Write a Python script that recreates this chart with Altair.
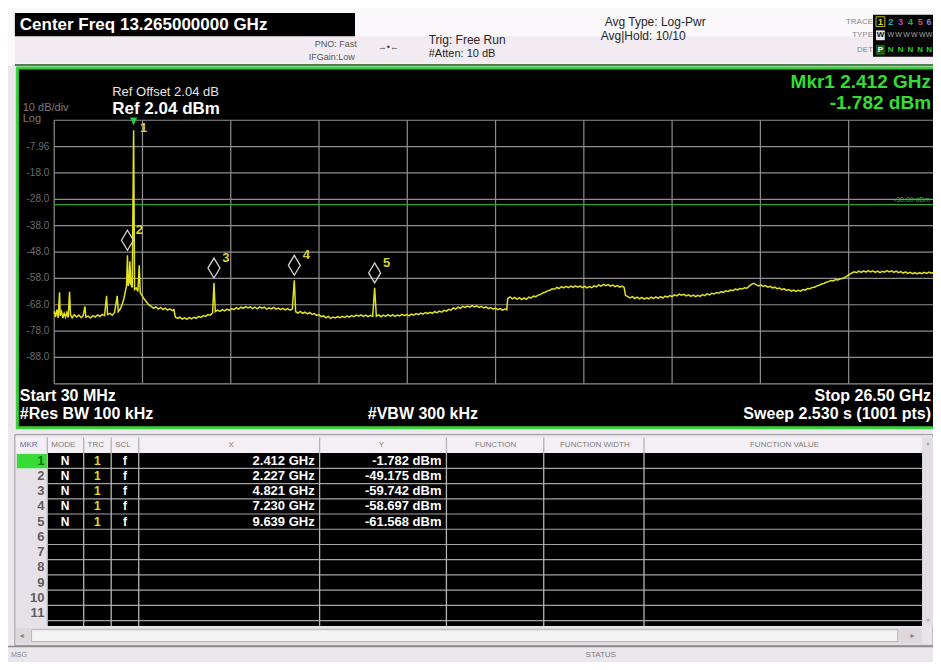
import altair as alt
import pandas as pd

# ---------------- instrument settings ----------------
F_START_GHZ = 0.03
F_STOP_GHZ = 26.5
REF_LEVEL_DBM = 2.04
REF_OFFSET_DB = 2.04
DB_PER_DIV = 10
N_DIV = 10
DISPLAY_LINE_DBM = -30.0
RBW_KHZ = 100
VBW_KHZ = 300
SWEEP_S = 2.530
SWEEP_PTS = 1001
ATTEN_DB = 10
AVG_HOLD = "10/10"

MARKER_IDS = [1, 2, 3, 4, 5]
MARKER_FREQ_GHZ = [2.412, 2.227, 4.821, 7.230, 9.639]
MARKER_LEVEL_DBM = [-1.782, -49.175, -59.742, -58.697, -61.568]
TABLE_ROWS = 11

# trace 1 (GHz, dBm)
TRACE = [
    (0.03, -70.4), (0.07, -72.6), (0.11, -69.8), (0.15, -72.9), (0.19, -63.2), (0.21, -72.1), (0.25, -70.6),
    (0.29, -73.0), (0.33, -71.2), (0.37, -72.7), (0.41, -70.9), (0.45, -72.8), (0.49, -63.0), (0.52, -71.9),
    (0.57, -72.9), (0.63, -71.7), (0.70, -72.6), (0.77, -71.9), (0.84, -72.9), (0.90, -72.1), (0.95, -68.6),
    (0.98, -72.7), (1.05, -72.3), (1.12, -73.0), (1.19, -72.1), (1.26, -72.6), (1.33, -71.8), (1.40, -72.4),
    (1.47, -71.6), (1.54, -72.1), (1.60, -64.6), (1.63, -71.7), (1.70, -71.2), (1.77, -71.9), (1.84, -70.9),
    (1.92, -64.6), (1.95, -70.6), (2.01, -69.6), (2.07, -67.8), (2.12, -65.6), (2.17, -62.5), (2.20, -60.6),
    (2.227, -49.175), (2.25, -60.8), (2.28, -59.4), (2.30, -51.5), (2.33, -60.2), (2.37, -61.4),
    (2.412, -1.782), (2.44, -62.2), (2.49, -61.6), (2.54, -62.9), (2.58, -53.0), (2.61, -63.4), (2.67, -64.6),
    (2.73, -65.8), (2.80, -66.9), (2.87, -68.0), (2.94, -68.6), (3.01, -69.3), (3.08, -68.8), (3.15, -69.6),
    (3.22, -69.0), (3.29, -69.8), (3.36, -69.3), (3.43, -70.0), (3.50, -69.5), (3.57, -70.2), (3.62, -69.8),
    (3.66, -72.6), (3.73, -73.1), (3.80, -72.7), (3.87, -73.4), (3.94, -72.9), (4.01, -73.5), (4.08, -72.8),
    (4.15, -73.3), (4.22, -72.7), (4.29, -73.1), (4.36, -72.4), (4.43, -72.8), (4.50, -72.1), (4.57, -72.4),
    (4.64, -71.7), (4.71, -71.9), (4.78, -71.1), (4.821, -59.742), (4.86, -70.6), (4.93, -70.0), (5.00, -70.5),
    (5.07, -69.8), (5.14, -70.3), (5.21, -69.6), (5.28, -70.1), (5.35, -69.4), (5.42, -69.8), (5.49, -69.1),
    (5.56, -69.6), (5.63, -68.9), (5.70, -69.3), (5.77, -68.7), (5.84, -69.2), (5.91, -68.8), (5.98, -69.4),
    (6.05, -68.9), (6.12, -69.5), (6.19, -68.8), (6.26, -69.3), (6.33, -68.9), (6.40, -69.6), (6.47, -69.1),
    (6.54, -69.5), (6.61, -69.0), (6.68, -69.6), (6.75, -69.2), (6.82, -69.8), (6.89, -69.3), (6.96, -69.9),
    (7.03, -69.4), (7.10, -70.0), (7.17, -69.6), (7.230, -58.697), (7.27, -70.6), (7.34, -71.1), (7.41, -70.5),
    (7.48, -71.2), (7.55, -70.8), (7.62, -71.4), (7.69, -70.9), (7.76, -71.6), (7.83, -71.3), (7.90, -72.0),
    (7.97, -71.8), (8.04, -72.5), (8.11, -72.2), (8.18, -72.9), (8.25, -72.4), (8.32, -73.1), (8.39, -72.6),
    (8.46, -73.0), (8.53, -72.5), (8.60, -72.9), (8.67, -72.4), (8.74, -72.8), (8.81, -72.2), (8.88, -72.7),
    (8.95, -72.1), (9.02, -72.5), (9.09, -71.9), (9.16, -72.3), (9.23, -71.8), (9.30, -72.4), (9.37, -71.9),
    (9.44, -72.5), (9.51, -72.0), (9.58, -72.4), (9.639, -61.568), (9.69, -72.3), (9.76, -71.8), (9.83, -72.5),
    (9.90, -71.9), (9.97, -72.4), (10.04, -71.7), (10.11, -72.3), (10.18, -71.8), (10.25, -72.4), (10.32, -71.9),
    (10.39, -72.2), (10.46, -71.6), (10.53, -72.1), (10.60, -71.7), (10.67, -72.2), (10.74, -71.5), (10.81, -71.9),
    (10.88, -71.3), (10.95, -71.7), (11.02, -71.1), (11.09, -71.5), (11.16, -70.9), (11.23, -71.3), (11.30, -70.8),
    (11.37, -71.2), (11.44, -70.6), (11.51, -71.0), (11.58, -70.4), (11.65, -70.8), (11.72, -70.1), (11.79, -70.4),
    (11.86, -69.7), (11.93, -70.0), (12.00, -69.2), (12.07, -69.6), (12.14, -68.9), (12.21, -69.3), (12.28, -68.6),
    (12.35, -69.0), (12.42, -68.5), (12.49, -68.9), (12.56, -68.3), (12.63, -68.8), (12.70, -68.4), (12.77, -69.0),
    (12.84, -68.6), (12.91, -69.2), (12.98, -68.8), (13.05, -69.4), (13.12, -69.0), (13.19, -69.6), (13.26, -69.2),
    (13.33, -69.8), (13.40, -69.4), (13.47, -70.0), (13.55, -69.6), (13.60, -69.9), (13.63, -65.6), (13.70, -65.0),
    (13.77, -65.7), (13.84, -65.2), (13.91, -65.9), (13.98, -65.3), (14.05, -66.0), (14.12, -65.4), (14.19, -65.9),
    (14.26, -65.1), (14.33, -65.4), (14.40, -64.7), (14.47, -64.9), (14.54, -64.3), (14.61, -64.1), (14.68, -63.5),
    (14.75, -63.2), (14.82, -62.7), (14.89, -62.5), (14.96, -61.9), (15.03, -62.1), (15.10, -61.4), (15.17, -61.8),
    (15.24, -61.1), (15.31, -61.6), (15.38, -61.0), (15.45, -61.5), (15.52, -60.9), (15.59, -61.4), (15.66, -60.8),
    (15.73, -61.3), (15.80, -60.9), (15.87, -61.5), (15.94, -61.0), (16.01, -61.6), (16.08, -61.1), (16.15, -61.5),
    (16.22, -60.8), (16.29, -61.2), (16.36, -60.4), (16.43, -60.9), (16.50, -60.2), (16.57, -60.7), (16.64, -60.3),
    (16.71, -60.9), (16.78, -60.5), (16.85, -61.1), (16.92, -60.7), (16.99, -61.3), (17.06, -60.9), (17.12, -61.4),
    (17.16, -64.4), (17.23, -64.9), (17.30, -65.4), (17.37, -64.9), (17.44, -65.6), (17.51, -65.1), (17.58, -65.7),
    (17.65, -65.2), (17.72, -65.8), (17.79, -65.3), (17.86, -65.7), (17.93, -65.1), (18.00, -65.6), (18.07, -65.0),
    (18.14, -65.5), (18.21, -64.9), (18.28, -65.4), (18.35, -64.7), (18.42, -65.1), (18.49, -64.5), (18.56, -64.9),
    (18.63, -64.2), (18.70, -64.6), (18.77, -63.9), (18.84, -64.3), (18.91, -64.0), (18.98, -64.6), (19.05, -64.2),
    (19.12, -64.8), (19.19, -64.3), (19.26, -64.9), (19.33, -64.4), (19.40, -64.8), (19.47, -64.1), (19.54, -64.5),
    (19.61, -63.8), (19.68, -64.2), (19.75, -63.6), (19.82, -63.9), (19.89, -63.3), (19.96, -63.6), (20.03, -63.0),
    (20.10, -63.3), (20.17, -62.7), (20.24, -62.9), (20.31, -62.4), (20.38, -62.6), (20.45, -62.0), (20.52, -62.3),
    (20.59, -61.8), (20.66, -62.0), (20.73, -61.5), (20.80, -61.7), (20.87, -60.9), (20.94, -60.2), (21.01, -59.8),
    (21.08, -60.4), (21.15, -60.8), (21.22, -60.4), (21.29, -61.0), (21.36, -60.7), (21.43, -61.3), (21.50, -61.0),
    (21.57, -61.6), (21.64, -61.3), (21.71, -61.9), (21.78, -61.6), (21.85, -62.2), (21.92, -61.9), (21.99, -62.5),
    (22.06, -62.2), (22.13, -62.8), (22.20, -62.4), (22.27, -62.9), (22.34, -62.5), (22.41, -62.8), (22.48, -62.2),
    (22.55, -62.4), (22.62, -61.8), (22.69, -61.9), (22.76, -61.4), (22.83, -61.3), (22.90, -60.8), (22.97, -60.6),
    (23.04, -60.1), (23.11, -59.9), (23.18, -59.4), (23.25, -59.2), (23.32, -58.8), (23.39, -58.9), (23.46, -58.4),
    (23.53, -58.6), (23.60, -58.1), (23.67, -58.0), (23.74, -57.6), (23.81, -57.0), (23.88, -56.4), (23.95, -55.9),
    (24.02, -55.5), (24.09, -55.8), (24.16, -55.2), (24.23, -55.7), (24.30, -55.1), (24.37, -55.6), (24.44, -55.0),
    (24.51, -55.5), (24.58, -55.1), (24.65, -55.7), (24.72, -55.2), (24.79, -55.8), (24.86, -55.3), (24.93, -55.6),
    (25.00, -55.0), (25.07, -55.5), (25.14, -55.1), (25.21, -55.7), (25.28, -55.2), (25.35, -55.8), (25.42, -55.4),
    (25.49, -56.0), (25.56, -55.5), (25.63, -56.1), (25.70, -55.7), (25.77, -56.2), (25.84, -55.8), (25.91, -56.3),
    (25.98, -55.8), (26.05, -56.2), (26.12, -55.7), (26.19, -56.1), (26.26, -55.6), (26.33, -56.0), (26.40, -55.7),
    (26.50, -56.0),
]

# ---------------- layout (reference screen is 941 x 670) ----------------
W, H = 925, 654
SX, SY = W / 941.0, H / 670.0


def px(v):
    return round(v * SX, 2)


def py(v):
    return round(v * SY, 2)


FONT = "Liberation Sans"
BOTTOM_DBM = REF_LEVEL_DBM - DB_PER_DIV * N_DIV

xs = alt.Scale(domain=[F_START_GHZ, F_STOP_GHZ], range=[px(47), px(945)], nice=False, zero=False)
ys = alt.Scale(domain=[BOTTOM_DBM, REF_LEVEL_DBM], range=[py(385), py(115)], nice=False, zero=False)

# ---------- chrome: rectangles ----------
rect_rows = [
    # x, y, x2, y2, fill, stroke, stroke width
    (0, 0, 941, 59, "#fbf8fb", "transparent", 0),
    (7, 29, 941, 57, "#f2ecf2", "transparent", 0),
    (7, 5, 353, 29, "#000000", "transparent", 0),
    (880, 7, 941, 50, "#050505", "transparent", 0),
    (883, 9, 892, 19, "#050505", "#b8b830", 1),
    (883, 23, 892, 33, "#e6e6e6", "transparent", 0),
    (883, 38, 892, 48, "#1f5f1f", "transparent", 0),
    (9.5, 61.5, 960, 430, "#000000", "#3ad23a", 3),
    (7, 437, 941, 653, "#e9e4eb", "#9a9a9a", 1),
    (8, 440, 930, 456, "#f3eff4", "transparent", 0),
    (8, 456, 40, 633, "#e6e1e8", "transparent", 0),
    (40, 456, 930, 633, "#000000", "transparent", 0),
    (9, 457, 40, 471.5, "#34dc34", "transparent", 0),
    (930, 440, 941, 633, "#e2dee4", "transparent", 0),
    (8, 635, 930, 651, "#dcd8dc", "transparent", 0),
    (24, 637, 905, 649, "#f4f4f4", "#b8b8b8", 1),
    (0, 655, 941, 670, "#ebe6ec", "transparent", 0),
]
rect_df = pd.DataFrame(
    [dict(x=px(a), y=py(b), x2=px(c), y2=py(d), fill=f, stroke=s, sw=w) for a, b, c, d, f, s, w in rect_rows]
)
rects = alt.Chart(rect_df).mark_rect().encode(
    x=alt.X("x:Q", scale=None, axis=None),
    x2="x2:Q",
    y=alt.Y("y:Q", scale=None, axis=None),
    y2="y2:Q",
    fill=alt.Fill("fill:N", scale=None),
    stroke=alt.Stroke("stroke:N", scale=None),
    strokeWidth=alt.StrokeWidth("sw:Q", scale=None),
)

# ---------- chrome: lines ----------
ROW_TOP, ROW_H = 456, 15.6
rule_rows = [(7, 58.5, 941, 58.5, "#4f7f4f", 2), (0, 654, 941, 654, "#8c8c8c", 1.5)]
for k in range(1, TABLE_ROWS + 1):
    yy = ROW_TOP + k * ROW_H
    rule_rows.append((40, yy, 930, yy, "#a4a4a4", 1.2))
for xx in [40, 77, 105, 133, 317, 446, 545, 647]:
    rule_rows.append((xx, 440, xx, 633, "#b4b4b4", 1.3))
rule_df = pd.DataFrame(
    [dict(x=px(a), y=py(b), x2=px(c), y2=py(d), c=col, sw=w) for a, b, c, d, col, w in rule_rows]
)
rules = alt.Chart(rule_df).mark_rule().encode(
    x=alt.X("x:Q", scale=None, axis=None),
    x2="x2:Q",
    y=alt.Y("y:Q", scale=None, axis=None),
    y2="y2:Q",
    color=alt.Color("c:N", scale=None),
    strokeWidth=alt.StrokeWidth("sw:Q", scale=None),
)

# ---------- graticule through the trace scales ----------
h_levels = [REF_LEVEL_DBM - DB_PER_DIV * k for k in range(N_DIV + 1)]
v_freqs = [F_START_GHZ + k * (F_STOP_GHZ - F_START_GHZ) / N_DIV for k in range(N_DIV + 1)]
hgrid = alt.Chart(pd.DataFrame({"lvl": h_levels, "f0": F_START_GHZ, "f1": F_STOP_GHZ})).mark_rule(
    color="#8e8e8e", strokeWidth=1.2
).encode(x=alt.X("f0:Q", scale=xs, axis=None), x2="f1:Q", y=alt.Y("lvl:Q", scale=ys, axis=None))
vgrid = alt.Chart(pd.DataFrame({"f": v_freqs, "top": REF_LEVEL_DBM, "bot": BOTTOM_DBM})).mark_rule(
    color="#8e8e8e", strokeWidth=1.2
).encode(x=alt.X("f:Q", scale=xs, axis=None), y=alt.Y("top:Q", scale=ys, axis=None), y2="bot:Q")
dline = alt.Chart(pd.DataFrame({"lvl": [DISPLAY_LINE_DBM], "f0": F_START_GHZ, "f1": F_STOP_GHZ})).mark_rule(
    color="#2f9f2f", strokeWidth=1.3
).encode(x=alt.X("f0:Q", scale=xs, axis=None), x2="f1:Q", y=alt.Y("lvl:Q", scale=ys, axis=None))


def fmt_level(v):
    return f"{v:.2f}" if abs(v) < 10 else f"{v:.1f}"


ylab_df = pd.DataFrame({"lvl": h_levels[1:N_DIV], "t": [fmt_level(v) for v in h_levels[1:N_DIV]]})
ylabels = alt.Chart(ylab_df).mark_text(
    align="right", baseline="middle", font=FONT, fontSize=10, color="#6c6c6c"
).encode(x=alt.value(px(42)), y=alt.Y("lvl:Q", scale=ys, axis=None), text="t:N")

# ---------- trace and markers ----------
trace_df = pd.DataFrame(TRACE, columns=["f", "dbm"])
trace = alt.Chart(trace_df).mark_line(color="#e2e21e", strokeWidth=1.5, interpolate="linear").encode(
    x=alt.X("f:Q", scale=xs, axis=None), y=alt.Y("dbm:Q", scale=ys, axis=None)
)

mk_df = pd.DataFrame(
    {"id": MARKER_IDS, "f": MARKER_FREQ_GHZ, "dbm": MARKER_LEVEL_DBM, "t": [str(i) for i in MARKER_IDS]}
)
mk_enc = dict(x=alt.X("f:Q", scale=xs, axis=None), y=alt.Y("dbm:Q", scale=ys, axis=None))
diamonds = alt.Chart(mk_df).transform_filter("datum.id > 1").mark_point(
    shape="M0,-2.5L0.6,-1.5L0,-0.5L-0.6,-1.5Z", size=400, filled=False, color="#d2d2d2",
    strokeWidth=1.3, opacity=1
).encode(**mk_enc)
tri = alt.Chart(mk_df).transform_filter("datum.id == 1").mark_point(
    shape="M-0.9,-3.2L0.9,-3.2L0,-1.2Z", size=64, filled=True, color="#22d040", opacity=1
).encode(**mk_enc)
mk_labels = alt.Chart(mk_df).transform_filter("datum.id > 1").mark_text(
    dx=12, dy=-25, font=FONT, fontSize=13, fontWeight="bold", color="#d6d62a"
).encode(text="t:N", **mk_enc)
mk1_label = alt.Chart(mk_df).transform_filter("datum.id == 1").mark_text(
    dx=10, dy=-2, font=FONT, fontSize=13, fontWeight="bold", color="#c8d23a"
).encode(text="t:N", **mk_enc)

# ---------- texts ----------
WHITE, GREEN, DARK, GREY = "#ffffff", "#33dd33", "#262626", "#7c7c7c"
center_ghz = (F_START_GHZ + F_STOP_GHZ) / 2

texts = {
    ("left", "bold"): [
        (12, 17, f"Center Freq {center_ghz:.9f} GHz", 17, WHITE),
        (106, 103, f"Ref {REF_LEVEL_DBM:.2f} dBm", 17, WHITE),
        (12, 397, f"Start {F_START_GHZ * 1000:.0f} MHz", 16, WHITE),
        (12, 416, f"#Res BW {RBW_KHZ} kHz", 16, WHITE),
        (366, 416, f"#VBW {VBW_KHZ} kHz", 16, WHITE),
    ],
    ("left", "normal"): [
        (312, 37, "PNO: Fast", 9, "#555555"),
        (306, 50, "IFGain:Low", 9, "#555555"),
        (428, 33, "Trig: Free Run", 12, DARK),
        (428, 47, f"#Atten: {ATTEN_DB} dB", 11, DARK),
        (607, 14, "Avg Type: Log-Pwr", 12, DARK),
        (603, 29, f"Avg|Hold: {AVG_HOLD}", 12, DARK),
        (15, 102, f"{DB_PER_DIV} dB/div", 11, "#7a7a7a"),
        (15, 114, "Log", 11, "#7a7a7a"),
        (106, 86, f"Ref Offset {REF_OFFSET_DB:.2f} dB", 13, "#e6e6e6"),
        (12, 448, "MKR", 8, "#5a6fb0"),
        (44, 448, "MODE", 8, GREY),
        (81, 448, "TRC", 8, GREY),
        (109, 448, "SCL", 8, GREY),
        (3, 663, "MSG", 7, "#8a8a8a"),
    ],
    ("right", "bold"): [
        (939, 76, f"Mkr1 {MARKER_FREQ_GHZ[0]:.3f} GHz", 19, GREEN),
        (939, 97, f"{MARKER_LEVEL_DBM[0]:.3f} dBm", 19, GREEN),
        (939, 397, f"Stop {F_STOP_GHZ:.2f} GHz", 16, WHITE),
        (939, 416, f"Sweep  {SWEEP_S:.3f} s ({SWEEP_PTS} pts)", 16, WHITE),
    ],
    ("right", "normal"): [
        (880, 14, "TRACE", 8, "#8a8a8a"),
        (880, 28, "TYPE", 8, "#8a8a8a"),
        (880, 43, "DET", 8, "#8a8a8a"),
        (938, 197, f"{DISPLAY_LINE_DBM:.2f} dBm", 7, "#2fb02f"),
    ],
    ("center", "normal"): [
        (227, 448, "X", 8, GREY),
        (380, 448, "Y", 8, GREY),
        (496, 448, "FUNCTION", 8, GREY),
        (597, 448, "FUNCTION WIDTH", 8, GREY),
        (790, 448, "FUNCTION VALUE", 8, GREY),
        (387, 40, "→•←", 9, "#444444"),
        (603, 663, "STATUS", 8, "#7a7a7a"),
        (14, 643, "◄", 7, "#8a8a8a"),
        (920, 643, "►", 7, "#8a8a8a"),
        (936, 446, "▲", 5, "#9a9a9a"),
        (936, 627, "▼", 5, "#9a9a9a"),
        (898, 28, "W", 7, "#a0a0a0"),
        (906, 28, "W", 7, "#a0a0a0"),
        (914, 28, "W", 7, "#a0a0a0"),
        (922, 28, "W", 7, "#a0a0a0"),
        (930, 28, "W", 7, "#a0a0a0"),
        (937, 28, "W", 7, "#a0a0a0"),
    ],
    ("center", "bold"): [
        (887.5, 14, "1", 9, "#d8d830"),
        (898, 14, "2", 9, "#22b8b8"),
        (908, 14, "3", 9, "#c040c0"),
        (918, 14, "4", 9, "#30b030"),
        (928, 14, "5", 9, "#d05050"),
        (937, 14, "6", 9, "#8080e0"),
        (887.5, 28, "W", 8, "#111111"),
        (887.5, 43, "P", 8, "#ffffff"),
        (898, 43, "N", 8, "#2ecc2e"),
        (908, 43, "N", 8, "#2ecc2e"),
        (918, 43, "N", 8, "#2ecc2e"),
        (928, 43, "N", 8, "#2ecc2e"),
        (937, 43, "N", 8, "#2ecc2e"),
    ],
}

# marker table rows
for k in range(1, TABLE_ROWS + 1):
    yc = ROW_TOP + (k - 0.5) * ROW_H
    texts[("right", "bold")].append((37, yc, str(k), 13, "#137713" if k == 1 else "#5e5e5e"))
for i, (mid, f, lv) in enumerate(zip(MARKER_IDS, MARKER_FREQ_GHZ, MARKER_LEVEL_DBM)):
    yc = ROW_TOP + (i + 0.5) * ROW_H
    texts[("center", "bold")].extend([
        (58, yc, "N", 12, WHITE),
        (91, yc, "1", 12, "#dede22"),
        (119, yc, "f", 12, WHITE),
    ])
    texts[("right", "bold")].extend([
        (312, yc, f"{f:.3f} GHz", 13, WHITE),
        (441, yc, f"{lv:.3f} dBm", 13, WHITE),
    ])

text_layers = []
for (align, weight), rows in texts.items():
    df = pd.DataFrame([dict(x=px(a), y=py(b), t=t, s=s, c=c) for a, b, t, s, c in rows])
    text_layers.append(
        alt.Chart(df).mark_text(align=align, baseline="middle", font=FONT, fontWeight=weight).encode(
            x=alt.X("x:Q", scale=None, axis=None),
            y=alt.Y("y:Q", scale=None, axis=None),
            text="t:N",
            size=alt.Size("s:Q", scale=None),
            color=alt.Color("c:N", scale=None),
        )
    )

chart = alt.layer(
    rects, rules, hgrid, vgrid, dline, ylabels, trace, diamonds, tri, mk_labels, mk1_label, *text_layers
).properties(
    width=W, height=H, background="#ece7ee", padding=0, autosize="none"
).configure_view(stroke=None)

chart.save("out.html", embed_options={"renderer": "svg", "actions": False})
